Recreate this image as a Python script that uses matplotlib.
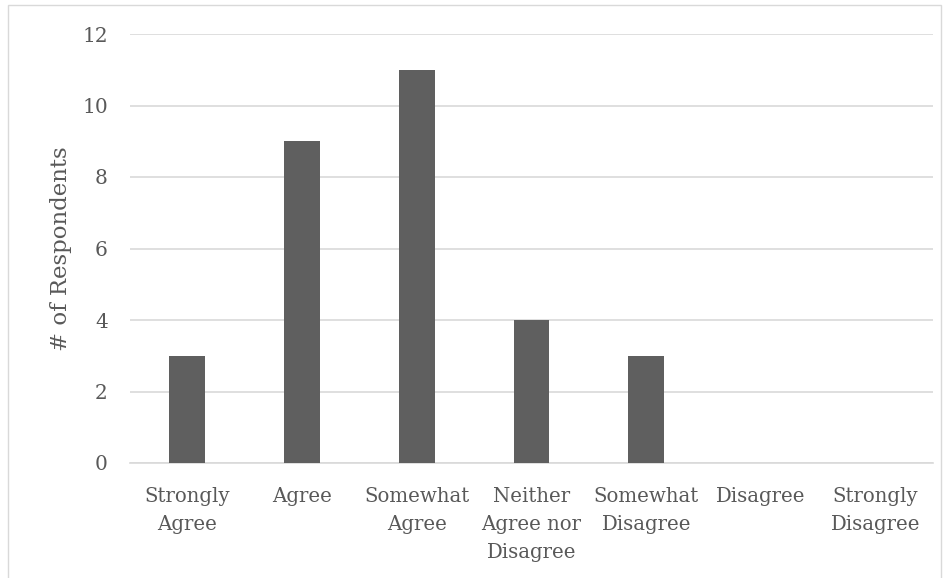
import matplotlib
matplotlib.use("Agg")
import matplotlib.pyplot as plt
from matplotlib.patches import Rectangle

categories = ["Strongly\nAgree", "Agree", "Somewhat\nAgree", "Neither\nAgree nor\nDisagree",
              "Somewhat\nDisagree", "Disagree", "Strongly\nDisagree"]
values = [3, 9, 11, 4, 3, 0, 0]
yticks = [0, 2, 4, 6, 8, 10, 12]

plt.rcParams['font.family'] = ['DejaVu Serif']
txt = '#595959'

fig = plt.figure(figsize=(9.51, 5.78), dpi=100)
fig.patches.append(Rectangle((8/951, -0.05), (941-8)/951, 1.05 - 5/578, transform=fig.transFigure,
                             fill=False, edgecolor='#d9d9d9', linewidth=1.0))
ax = fig.add_axes([130/951, 1-463/578, (933-130)/951, (463-34)/578])
x = list(range(len(categories)))
ax.bar(x, values, width=0.313, color='#5f5f5f', zorder=3)
ax.set_xlim(-0.5, len(categories)-0.5)
ax.set_ylim(0, 12)
ax.set_yticks(yticks)
ax.set_yticklabels([str(v) for v in yticks], color=txt, fontsize=14.5)
ax.set_xticks(x)
ax.set_xticklabels(categories, color=txt, fontsize=14.2, linespacing=1.6, va='top', ha='center')
ax.tick_params(axis='both', length=0)
ax.tick_params(axis='x', pad=17)
ax.tick_params(axis='y', pad=16)
ax.grid(axis='y', color='#d9d9d9', linewidth=1.2, zorder=0)
for s in ['top', 'right', 'left']:
    ax.spines[s].set_visible(False)
ax.spines['bottom'].set_color('#d9d9d9')
ax.spines['bottom'].set_linewidth(1.2)
ax.set_ylabel('# of Respondents', color=txt, fontsize=16.5, labelpad=7)

fig.savefig('out.png', dpi=100)
